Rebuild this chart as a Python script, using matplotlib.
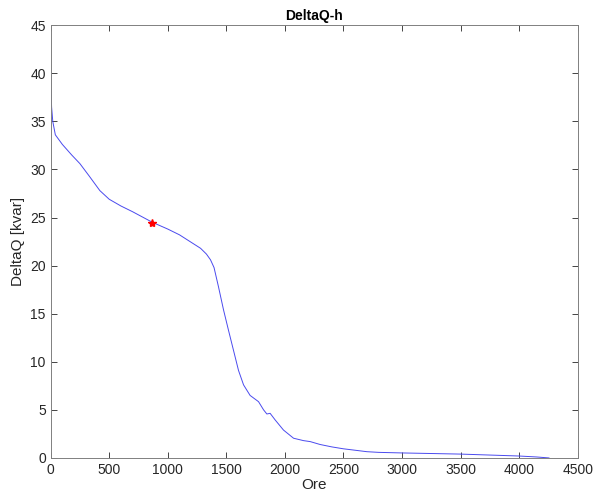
import matplotlib.pyplot as plt

# ---------------------------
# Data
# ---------------------------
ore = [0, 3, 8, 18, 40, 100, 180, 250, 330, 420, 500, 600, 700, 869,
       1000, 1100, 1190, 1280, 1330, 1365, 1395, 1433, 1476, 1518, 1561,
       1604, 1647, 1703, 1775, 1818, 1846, 1874, 1917, 1988, 2074, 2159,
       2216, 2300, 2400, 2500, 2600, 2700, 2800, 3000, 3250, 3500, 3750,
       4000, 4150, 4255]
delta_q = [41.7, 38.5, 36.5, 35.0, 33.6, 32.6, 31.5, 30.6, 29.3, 27.8, 26.9,
           26.2, 25.6, 24.5, 23.8, 23.2, 22.5, 21.8, 21.2, 20.6, 19.8, 17.8,
           15.4, 13.3, 11.2, 9.1, 7.6, 6.5, 5.85, 5.0, 4.57, 4.64, 3.95, 2.9,
           2.05, 1.8, 1.7, 1.4, 1.15, 0.95, 0.8, 0.65, 0.58, 0.52, 0.46, 0.4,
           0.3, 0.2, 0.1, 0.0]

point_x = [869]
point_y = [24.46]

xticks = [0, 500, 1000, 1500, 2000, 2500, 3000, 3500, 4000, 4500]
yticks = [0, 5, 10, 15, 20, 25, 30, 35, 40, 45]

# ---------------------------
# Plot
# ---------------------------
plt.rcParams['font.family'] = ['Liberation Sans', 'DejaVu Sans']
grey = '#262626'

fig = plt.figure(figsize=(6.03, 4.94), dpi=100)
ax = fig.add_axes([0.084, 0.073, 0.874, 0.876])

ax.plot(ore, delta_q, color='#4a4aee', linewidth=0.7)
ax.plot(point_x, point_y, marker='*', color='red', markersize=6, linestyle='none')

ax.set_xlim(0, 4500)
ax.set_ylim(0, 45)
ax.set_xticks(xticks)
ax.set_yticks(yticks)
ax.tick_params(direction='in', top=True, right=True, length=4, width=0.6,
               labelsize=10, colors=grey)
for s in ax.spines.values():
    s.set_color('#808080')
    s.set_linewidth(0.7)

ax.set_title('DeltaQ-h', fontsize=10, fontweight='bold', pad=4)
ax.set_xlabel('Ore', fontsize=11, color=grey, labelpad=1)
ax.set_ylabel('DeltaQ [kvar]', fontsize=11, color=grey, labelpad=4)

plt.savefig('out.png', dpi=100)
